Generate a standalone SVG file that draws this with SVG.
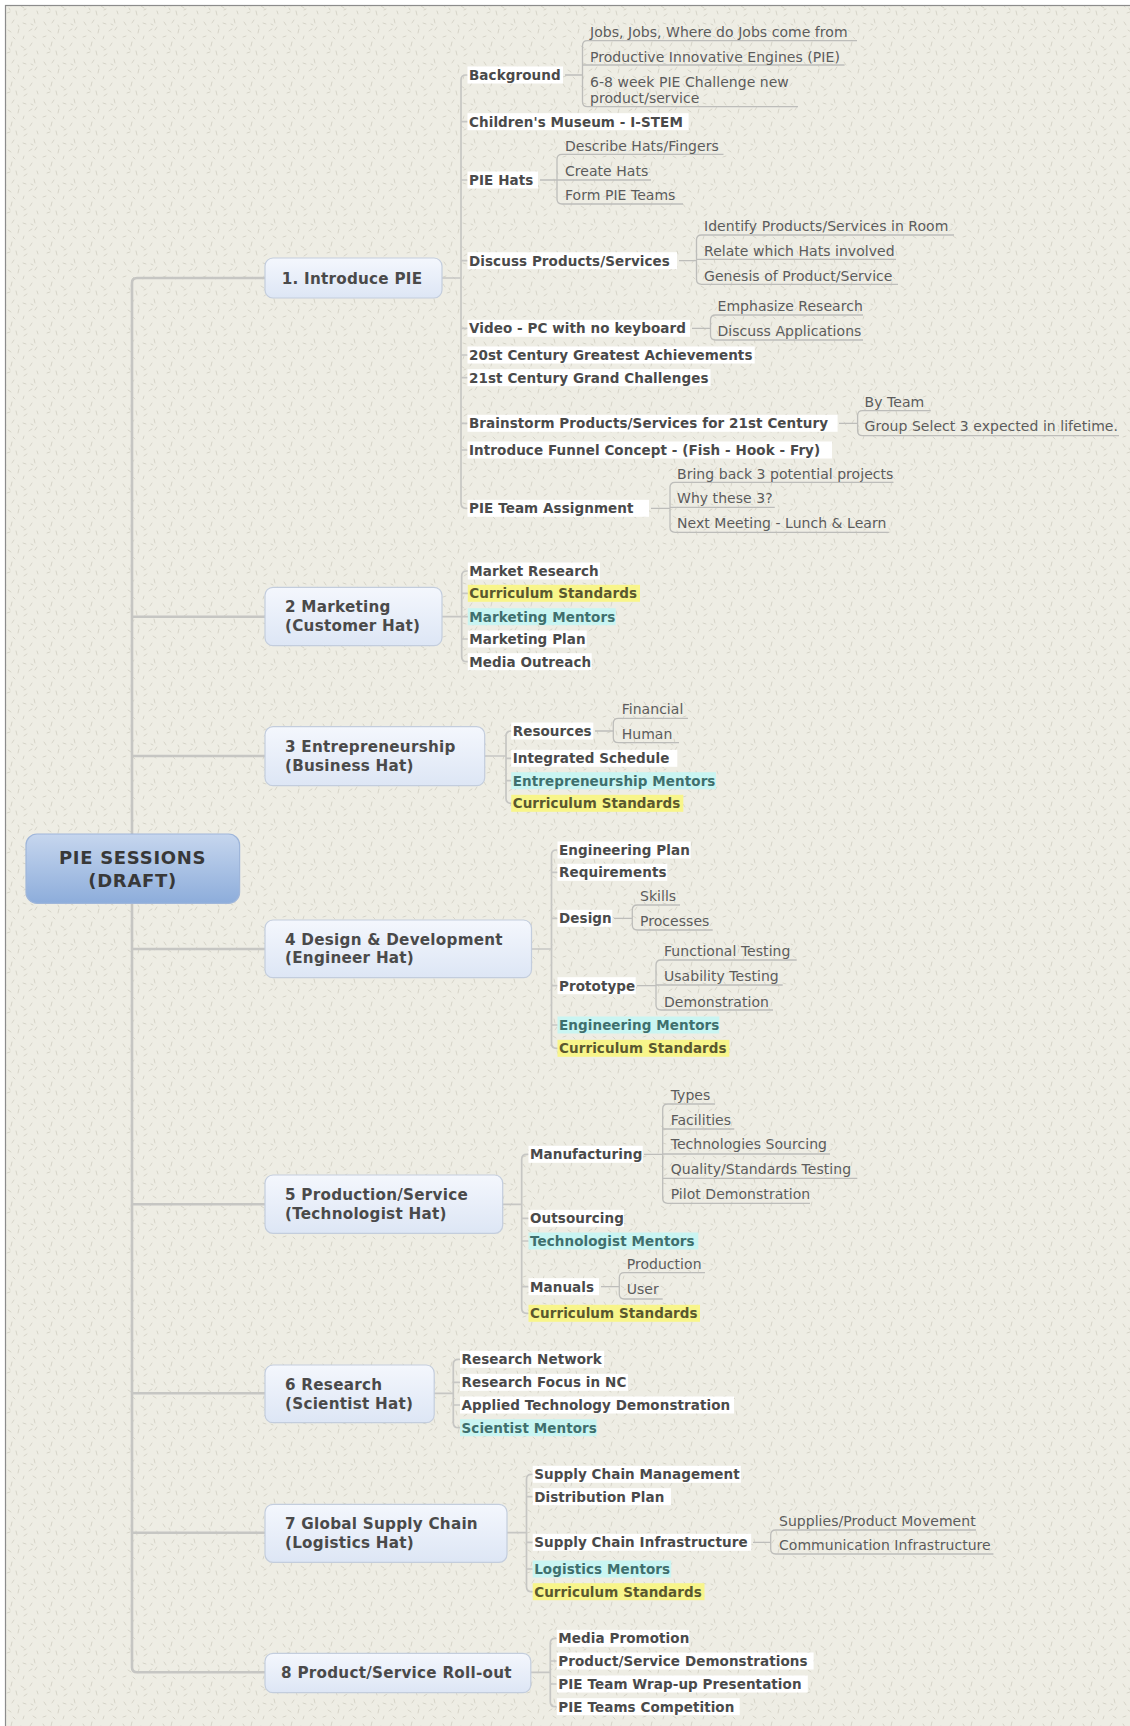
<svg xmlns="http://www.w3.org/2000/svg" width="1130" height="1726" viewBox="0 0 1130 1726">
<style>
.b{font-family:"DejaVu Sans",Verdana,sans-serif;font-weight:bold;font-size:13.5px;fill:#4a4a4a;letter-spacing:0.08px}
.bm{fill:#3f6f6d}
.by{fill:#5a582e}
.r{font-family:"DejaVu Sans",Verdana,sans-serif;font-size:14px;fill:#5c5c5c;letter-spacing:0.04px}
.hw{fill:#ffffff}
.hy{fill:#f8f58a}
.hc{fill:#c9f5f2}
.bx{fill:url(#bg);stroke:#c3cddd;stroke-width:1.2}
.bt{font-family:"DejaVu Sans",Verdana,sans-serif;font-weight:bold;font-size:15.2px;fill:#4a4a4a;letter-spacing:0.25px}
.c{fill:none;stroke:#c6c6c3;stroke-width:1.7;stroke-linecap:round}
.u{fill:none;stroke:#bdbdba;stroke-width:1.3}
.rt{font-family:"DejaVu Sans",Verdana,sans-serif;font-weight:bold;font-size:18px;fill:#383838;letter-spacing:0.7px}
</style>
<defs>
<linearGradient id="bg" x1="0" y1="0" x2="0" y2="1">
<stop offset="0" stop-color="#f4f7fd"/>
<stop offset="1" stop-color="#dde6f5"/>
</linearGradient>
<linearGradient id="rg" x1="0" y1="0" x2="0" y2="1">
<stop offset="0" stop-color="#c6d6ee"/>
<stop offset="1" stop-color="#8dadDb"/>
</linearGradient>
<pattern id="tex" width="40" height="40" patternUnits="userSpaceOnUse">
<rect width="40" height="40" fill="#eeede4"/>
<path d="M3 4l2 3M12 2l-1 4M21 6l3 2M32 3l-2 3M37 11l1 3M7 13l3-1M16 11l1 4M27 14l-3 2M4 22l2 3M14 20l-2 3M23 23l3 1M34 19l1 4M8 30l3 2M19 29l-1 4M29 31l3-2M37 27l-2 3M3 37l3-1M13 37l2 2M24 36l-1 3M33 36l3 2M9 8l1 2M26 9l-2 1M18 25l1 2M31 24l2 1" stroke="#d2d0c4" stroke-width="0.9" stroke-linecap="round" fill="none"/>
</pattern>
</defs>
<rect width="1130" height="1726" fill="#ffffff"/>
<rect x="5.5" y="5.5" width="1130" height="1730" fill="url(#tex)" stroke="#8c8c8c" stroke-width="1.2"/>

<g id="connectors">
<path class="c" style="stroke-width:2.6" d="M265 278H137Q132 278 132 283V1667.3Q132 1672.3 137 1672.3H265M132 616.7H265M132 756H265M132 949H265M132 1204.3H265M132 1393.3H265M132 1532.7H265"/>
<path class="c" d="M442 278H461M467 75H466Q461 75 461 80V503.3Q461 508.3 466 508.3H467M461 121.7H467M461 180H467M461 260.7H467M461 328.3H467M461 355H467M461 377.7H467M461 423.3H467M461 450H467"/>
<path class="c" d="M442 616.7H461.7M467.5 571H466.7Q461.7 571 461.7 576V656.7Q461.7 661.7 466.7 661.7H467.5M461.7 593.3H467.5M461.7 616.7H467.5M461.7 639H467.5"/>
<path class="c" d="M484.7 756H506M511 731Q506 731 506 736V798.3Q506 803.3 511 803.3M506 758.3H511M506 780.7H511"/>
<path class="c" d="M531.5 949H551.5M557 850H556.5Q551.5 850 551.5 855V1043.3Q551.5 1048.3 556.5 1048.3H557M551.5 872.3H557M551.5 918.3H557M551.5 985.7H557M551.5 1025H557"/>
<path class="c" d="M502.7 1204.3H521.7M528 1154.3H526.7Q521.7 1154.3 521.7 1159.3V1308.3Q521.7 1313.3 526.7 1313.3H528M521.7 1218.3H528M521.7 1241H528M521.7 1286.7H528"/>
<path class="c" d="M434.2 1393.3H453.3M459.5 1359.3H458.3Q453.3 1359.3 453.3 1364.3V1422.7Q453.3 1427.7 458.3 1427.7H459.5M453.3 1382.3H459.5M453.3 1405H459.5"/>
<path class="c" d="M507 1532.7H526.5M532 1474.3H531.5Q526.5 1474.3 526.5 1479.3V1586.7Q526.5 1591.7 531.5 1591.7H532M526.5 1496.7H532M526.5 1542.3H532M526.5 1569H532"/>
<path class="c" d="M530.8 1672.3H550.3M556 1638.3H555.3Q550.3 1638.3 550.3 1643.3V1701.7Q550.3 1706.7 555.3 1706.7H556M550.3 1661H556M550.3 1684H556"/>
<path class="u" d="M565 75H582.5M857 40.7H587.5Q582.5 40.7 582.5 45.7V101.7Q582.5 106.7 587.5 106.7H798M582.5 65H844.6"/>
<path class="u" d="M540 180H557M723.5 154.3H562Q557 154.3 557 159.3V199Q557 204 562 204H683M557 180H651"/>
<path class="u" d="M679 260.7H696.5M954 235H701.5Q696.5 235 696.5 240V279.3Q696.5 284.3 701.5 284.3H898M696.5 259.3H896"/>
<path class="u" d="M692 328.3H710.5M863 315H715.5Q710.5 315 710.5 320V335Q710.5 340 715.5 340H863"/>
<path class="u" d="M839 423.3H857.6M930.7 410.7H862.6Q857.6 410.7 857.6 415.7V430.7Q857.6 435.7 862.6 435.7H1119"/>
<path class="u" d="M651 508.3H670M893.5 482.3H675Q670 482.3 670 487.3V527.3Q670 532.3 675 532.3H888.8M670 507.3H774.8"/>
<path class="u" d="M595 731H613.3M688 718.3H618.3Q613.3 718.3 613.3 723.3V737.7Q613.3 742.7 618.3 742.7H679"/>
<path class="u" d="M614 918.3H632.3M680 905H637.3Q632.3 905 632.3 910V925Q632.3 930 637.3 930H712.7"/>
<path class="u" d="M637 985.7H656M796.7 960H661Q656 960 656 965V1005Q656 1010 661 1010H773M656 985H782.7"/>
<path class="u" d="M644 1154.3H662.7M715 1104H667.7Q662.7 1104 662.7 1109V1198.3Q662.7 1203.3 667.7 1203.3H810M662.7 1129H734.3M662.7 1154H830M662.7 1178.3H857.3"/>
<path class="u" d="M601 1286.7H619.3M705 1272.7H624.3Q619.3 1272.7 619.3 1277.7V1294Q619.3 1299 624.3 1299H662.7"/>
<path class="u" d="M753 1542.3H770.7M976 1530H775.7Q770.7 1530 770.7 1535V1549Q770.7 1554 775.7 1554H993.4"/>
</g>

<g id="root">
<rect x="26" y="834" width="213.6" height="69.3" rx="11" fill="url(#rg)" stroke="#9fb6da" stroke-width="1.2"/>
<text class="rt" x="132.6" y="864.2" text-anchor="middle">PIE SESSIONS</text>
<text class="rt" x="132.6" y="886.5" text-anchor="middle">(DRAFT)</text>
</g>

<g id="s1">
<rect class="bx" x="265" y="258" width="177" height="40" rx="8"/>
<text class="bt" x="352" y="283.5" text-anchor="middle">1. Introduce PIE</text>
</g>
<g id="s1-children">
<rect class="hw" x="467.5" y="66.5" width="95.5" height="17"/><text class="b" x="469" y="79.8">Background</text>
<rect class="hw" x="467.5" y="113.2" width="221.1" height="17"/><text class="b" x="469" y="126.5">Children's Museum - I-STEM</text>
<rect class="hw" x="467.5" y="171.5" width="70.5" height="17"/><text class="b" x="469" y="184.8">PIE Hats</text>
<rect class="hw" x="467.5" y="252.2" width="209.5" height="17"/><text class="b" x="469" y="265.5">Discuss Products/Services</text>
<rect class="hw" x="467.5" y="319.8" width="222.5" height="17"/><text class="b" x="469" y="333.1">Video - PC with no keyboard</text>
<rect class="hw" x="467.5" y="346.5" width="287.2" height="17"/><text class="b" x="469" y="359.8">20st Century Greatest Achievements</text>
<rect class="hw" x="467.5" y="369.2" width="243" height="17"/><text class="b" x="469" y="382.5">21st Century Grand Challenges</text>
<rect class="hw" x="467.5" y="414.8" width="370.1" height="17"/><text class="b" x="469" y="428.1">Brainstorm Products/Services for 21st Century</text>
<rect class="hw" x="467.5" y="441.5" width="364.5" height="17"/><text class="b" x="469" y="454.8">Introduce Funnel Concept - (Fish - Hook - Fry)</text>
<rect class="hw" x="467.5" y="499.8" width="181.5" height="17"/><text class="b" x="469" y="513.1">PIE Team Assignment</text>
</g>
<g id="s1-sub">
<text class="r" x="590" y="36.7">Jobs, Jobs, Where do Jobs come from</text>
<text class="r" x="590" y="61.7">Productive Innovative Engines (PIE)</text>
<text class="r" x="590" y="86.7">6-8 week PIE Challenge new</text>
<text class="r" x="590" y="102.7">product/service</text>
<text class="r" x="565" y="150.7">Describe Hats/Fingers</text>
<text class="r" x="565" y="175.7">Create Hats</text>
<text class="r" x="565" y="200">Form PIE Teams</text>
<text class="r" x="704" y="231">Identify Products/Services in Room</text>
<text class="r" x="704" y="255.7">Relate which Hats involved</text>
<text class="r" x="704" y="280.7">Genesis of Product/Service</text>
<text class="r" x="717.5" y="311">Emphasize Research</text>
<text class="r" x="717.5" y="336">Discuss Applications</text>
<text class="r" x="864.6" y="406.7">By Team</text>
<text class="r" x="864.6" y="431">Group Select 3 expected in lifetime.</text>
<text class="r" x="677" y="479">Bring back 3 potential projects</text>
<text class="r" x="677" y="503.3">Why these 3?</text>
<text class="r" x="677" y="528.3">Next Meeting - Lunch &amp; Learn</text>
</g>

<g id="s2">
<rect class="bx" x="265" y="587.3" width="177" height="58.4" rx="8"/>
<text class="bt" x="285" y="612.2">2 Marketing</text>
<text class="bt" x="285" y="631.2">(Customer Hat)</text>
</g>
<g id="s2-children">
<rect class="hw" x="467.8" y="562.5" width="132.2" height="17"/><text class="b" x="469.3" y="575.8">Market Research</text>
<rect class="hy" x="467.8" y="584.8" width="172.2" height="17"/><text class="b by" x="469.3" y="598.1">Curriculum Standards</text>
<rect class="hc" x="467.8" y="608.2" width="147.9" height="17"/><text class="b bm" x="469.3" y="621.5">Marketing Mentors</text>
<rect class="hw" x="467.8" y="630.5" width="118.9" height="17"/><text class="b" x="469.3" y="643.8">Marketing Plan</text>
<rect class="hw" x="467.8" y="653.2" width="123.9" height="17"/><text class="b" x="469.3" y="666.5">Media Outreach</text>
</g>

<g id="s3">
<rect class="bx" x="265" y="726.7" width="219.7" height="59" rx="8"/>
<text class="bt" x="285" y="751.5">3 Entrepreneurship</text>
<text class="bt" x="285" y="770.5">(Business Hat)</text>
</g>
<g id="s3-children">
<rect class="hw" x="511.2" y="722.5" width="82.1" height="17"/><text class="b" x="512.7" y="735.8">Resources</text>
<rect class="hw" x="511.2" y="749.8" width="166.1" height="17"/><text class="b" x="512.7" y="763.1">Integrated Schedule</text>
<rect class="hc" x="511.2" y="772.2" width="204.8" height="17"/><text class="b bm" x="512.7" y="785.5">Entrepreneurship Mentors</text>
<rect class="hy" x="511.2" y="794.8" width="172.1" height="17"/><text class="b by" x="512.7" y="808.1">Curriculum Standards</text>
<text class="r" x="621.7" y="714.3">Financial</text>
<text class="r" x="621.7" y="739.3">Human</text>
</g>

<g id="s4">
<rect class="bx" x="265" y="920" width="266.5" height="57.7" rx="8"/>
<text class="bt" x="285" y="944.5">4 Design &amp; Development</text>
<text class="bt" x="285" y="963.2">(Engineer Hat)</text>
</g>
<g id="s4-children">
<rect class="hw" x="557.5" y="841.5" width="133.2" height="17"/><text class="b" x="559" y="854.8">Engineering Plan</text>
<rect class="hw" x="557.5" y="863.8" width="109.8" height="17"/><text class="b" x="559" y="877.1">Requirements</text>
<rect class="hw" x="557.5" y="909.8" width="54.8" height="17"/><text class="b" x="559" y="923.1">Design</text>
<rect class="hw" x="557.5" y="977.2" width="78.2" height="17"/><text class="b" x="559" y="990.5">Prototype</text>
<rect class="hc" x="557.5" y="1016.5" width="161.8" height="17"/><text class="b bm" x="559" y="1029.8">Engineering Mentors</text>
<rect class="hy" x="557.5" y="1039.8" width="171.8" height="17"/><text class="b by" x="559" y="1053.1">Curriculum Standards</text>
<text class="r" x="640" y="901">Skills</text>
<text class="r" x="640" y="925.7">Processes</text>
<text class="r" x="664" y="956">Functional Testing</text>
<text class="r" x="664" y="981">Usability Testing</text>
<text class="r" x="664" y="1006.7">Demonstration</text>
</g>

<g id="s5">
<rect class="bx" x="265" y="1175" width="237.7" height="58.3" rx="8"/>
<text class="bt" x="285" y="1199.8">5 Production/Service</text>
<text class="bt" x="285" y="1218.8">(Technologist Hat)</text>
</g>
<g id="s5-children">
<rect class="hw" x="528.5" y="1145.8" width="114.2" height="17"/><text class="b" x="530" y="1159.1">Manufacturing</text>
<rect class="hw" x="528.5" y="1209.8" width="95.5" height="17"/><text class="b" x="530" y="1223.1">Outsourcing</text>
<rect class="hc" x="528.5" y="1232.5" width="169.8" height="17"/><text class="b bm" x="530" y="1245.8">Technologist Mentors</text>
<rect class="hw" x="528.5" y="1278.2" width="70.5" height="17"/><text class="b" x="530" y="1291.5">Manuals</text>
<rect class="hy" x="528.5" y="1304.8" width="171.5" height="17"/><text class="b by" x="530" y="1318.1">Curriculum Standards</text>
<text class="r" x="670.7" y="1100">Types</text>
<text class="r" x="670.7" y="1125">Facilities</text>
<text class="r" x="670.7" y="1149.3">Technologies Sourcing</text>
<text class="r" x="670.7" y="1174.3">Quality/Standards Testing</text>
<text class="r" x="670.7" y="1199.3">Pilot Demonstration</text>
<text class="r" x="626.7" y="1269.3">Production</text>
<text class="r" x="626.7" y="1294.3">User</text>
</g>

<g id="s6">
<rect class="bx" x="265" y="1365" width="169.2" height="57.7" rx="8"/>
<text class="bt" x="285" y="1389.8">6 Research</text>
<text class="bt" x="285" y="1408.8">(Scientist Hat)</text>
</g>
<g id="s6-children">
<rect class="hw" x="460" y="1350.8" width="144.2" height="17"/><text class="b" x="461.5" y="1364.1">Research Network</text>
<rect class="hw" x="460" y="1373.8" width="168" height="17"/><text class="b" x="461.5" y="1387.1">Research Focus in NC</text>
<rect class="hw" x="460" y="1396.5" width="274" height="17"/><text class="b" x="461.5" y="1409.8">Applied Technology Demonstration</text>
<rect class="hc" x="460" y="1419.2" width="136.6" height="17"/><text class="b bm" x="461.5" y="1432.5">Scientist Mentors</text>
</g>

<g id="s7">
<rect class="bx" x="265" y="1504.3" width="242" height="58" rx="8"/>
<text class="bt" x="285" y="1528.8">7 Global Supply Chain</text>
<text class="bt" x="285" y="1547.8">(Logistics Hat)</text>
</g>
<g id="s7-children">
<rect class="hw" x="532.7" y="1465.8" width="208.2" height="17"/><text class="b" x="534.2" y="1479.1">Supply Chain Management</text>
<rect class="hw" x="532.7" y="1488.2" width="138.3" height="17"/><text class="b" x="534.2" y="1501.5">Distribution Plan</text>
<rect class="hw" x="532.7" y="1533.8" width="218.5" height="17"/><text class="b" x="534.2" y="1547.1">Supply Chain Infrastructure</text>
<rect class="hc" x="532.7" y="1560.5" width="138.5" height="17"/><text class="b bm" x="534.2" y="1573.8">Logistics Mentors</text>
<rect class="hy" x="532.7" y="1583.2" width="171.8" height="17"/><text class="b by" x="534.2" y="1596.5">Curriculum Standards</text>
<text class="r" x="779" y="1525.7">Supplies/Product Movement</text>
<text class="r" x="779" y="1550">Communication Infrastructure</text>
</g>

<g id="s8">
<rect class="bx" x="265" y="1653.3" width="265.8" height="39.4" rx="8"/>
<text class="bt" x="396.4" y="1677.8" text-anchor="middle">8 Product/Service Roll-out</text>
</g>
<g id="s8-children">
<rect class="hw" x="556.8" y="1629.8" width="132.4" height="17"/><text class="b" x="558.3" y="1643.1">Media Promotion</text>
<rect class="hw" x="556.8" y="1652.5" width="256.8" height="17"/><text class="b" x="558.3" y="1665.8">Product/Service Demonstrations</text>
<rect class="hw" x="556.8" y="1675.5" width="251" height="17"/><text class="b" x="558.3" y="1688.8">PIE Team Wrap-up Presentation</text>
<rect class="hw" x="556.8" y="1698.2" width="182.9" height="17"/><text class="b" x="558.3" y="1711.5">PIE Teams Competition</text>
</g>
</svg>
